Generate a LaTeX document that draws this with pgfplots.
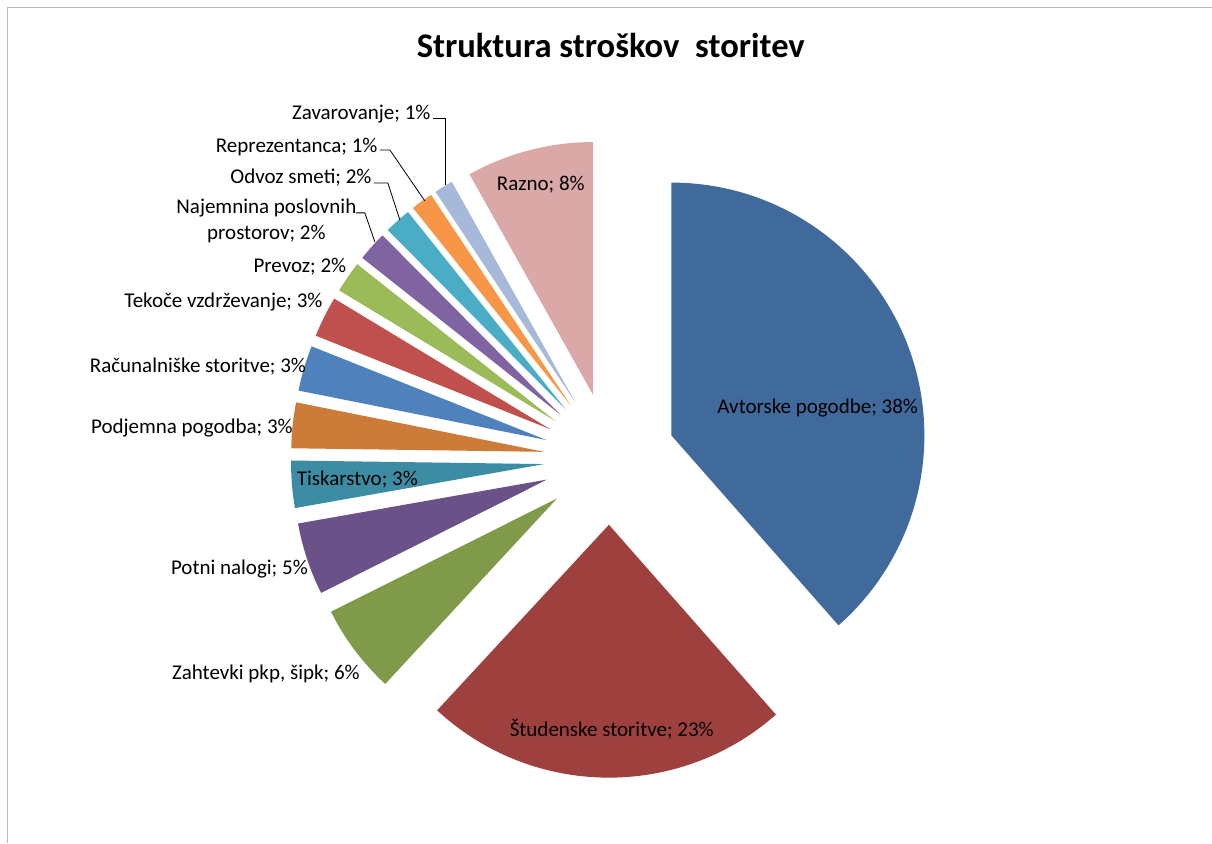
\documentclass[border=0pt]{standalone}
\usepackage{pgfplots}
\pgfplotsset{compat=1.18}
\usepackage{pgfplotstable}
\usepackage{fontspec}
\setmainfont{Carlito}

% slice colours, in drawing order (clockwise from 12 o'clock)
\definecolor{c0}{HTML}{416A9C}
\definecolor{c1}{HTML}{9E413E}
\definecolor{c2}{HTML}{7F9A48}
\definecolor{c3}{HTML}{6A5187}
\definecolor{c4}{HTML}{3C8DA3}
\definecolor{c5}{HTML}{CC7B38}
\definecolor{c6}{HTML}{4F81BD}
\definecolor{c7}{HTML}{C0504D}
\definecolor{c8}{HTML}{9BBB59}
\definecolor{c9}{HTML}{8064A2}
\definecolor{c10}{HTML}{4BACC6}
\definecolor{c11}{HTML}{F79646}
\definecolor{c12}{HTML}{A7B9D9}
\definecolor{c13}{HTML}{D9A8A7}

\pgfplotstableread[col sep=comma]{
key,value
Avtorske pogodbe,38.4
Studenske storitve,23.3
Zahtevki pkp sipk,5.7
Potni nalogi,4.6
Tiskarstvo,3.0
Podjemna pogodba,2.9
Racunalniske storitve,2.9
Tekoce vzdrzevanje,2.6
Prevoz,2.0
Najemnina,1.9
Odvoz smeti,1.7
Reprezentanca,1.4
Zavarovanje,1.2
Razno,8.1
}\costs

\newcommand{\lab}{\fontsize{10.5}{12.6}\selectfont}

\begin{document}
\begin{tikzpicture}
	\begin{axis}[
			x=0.5pt, y=0.5pt,
			xmin=0, xmax=1212,
			ymin=0, ymax=843,
			hide axis, clip=false,
			scale only axis
		]
		\path (axis cs:0,0) rectangle (axis cs:1212,843);
		% chart frame (cut at right and bottom)
		\draw[gray!55, line width=0.5pt] (axis cs:7.5,0) -- (axis cs:7.5,835.5) -- (axis cs:1212,835.5);

		% total of the values
		\def\total{0}
		\pgfplotsforeachungrouped \i in {0,...,13}{%
			\pgfplotstablegetelem{\i}{value}\of\costs
			\pgfmathsetmacro\total{\total+\pgfplotsretval}
		}
		% exploded slices: centre (610,384), radius 253, offset 66 (px)
		\def\cum{0}
		\pgfplotsforeachungrouped \i in {0,...,13}{%
			\pgfplotstablegetelem{\i}{value}\of\costs
			\pgfmathsetmacro\aone{90-360*(\cum/\total)}
			\pgfmathsetmacro\cum{\cum+\pgfplotsretval}
			\pgfmathsetmacro\atwo{90-360*(\cum/\total)}
			\pgfmathsetmacro\amid{(\aone+\atwo)/2}
			\pgfmathsetmacro\vx{610+66*cos(\amid)}
			\pgfmathsetmacro\vy{384+66*sin(\amid)}
			\edef\slice{\noexpand\fill[c\i] (axis cs:\vx,\vy) -- ++(\aone:126.5pt)
				arc[start angle=\aone, end angle=\atwo, radius=126.5pt] -- cycle;}
			\slice
		}

		% title
		\node[font=\fontsize{17.3}{20}\selectfont\bfseries, inner sep=0pt] at (axis cs:611,797) {Struktura stroškov~ storitev};

		% leader lines
		\draw[black, line width=0.4pt] (axis cs:433,725) -- (axis cs:446,725) -- (axis cs:446,658);
		\draw[black, line width=0.4pt] (axis cs:380,693) -- (axis cs:390,693) -- (axis cs:425,642);
		\draw[black, line width=0.4pt] (axis cs:374,660) -- (axis cs:388,660) -- (axis cs:400,623);
		\draw[black, line width=0.4pt] (axis cs:356,630) -- (axis cs:365,630) -- (axis cs:375,601);

		% data labels
		\begin{scope}[every node/.style={inner sep=0pt, font=\lab}]
			\node[anchor=east] at (axis cs:431,729) {Zavarovanje; 1\%};
			\node[anchor=east] at (axis cs:378,696) {Reprezentanca; 1\%};
			\node[anchor=east] at (axis cs:372,665) {Odvoz smeti; 2\%};
			\node[align=center] at (axis cs:266.5,622) {Najemnina poslovnih\\prostorov; 2\%};
			\node at (axis cs:300,576) {Prevoz; 2\%};
			\node at (axis cs:223.5,541) {Tekoče vzdrževanje; 3\%};
			\node at (axis cs:198,476) {Računalniške storitve; 3\%};
			\node at (axis cs:192,415) {Podjemna pogodba; 3\%};
			\node at (axis cs:357.5,363) {Tiskarstvo; 3\%};
			\node at (axis cs:239.5,274) {Potni nalogi; 5\%};
			\node at (axis cs:266,169) {Zahtevki pkp, šipk; 6\%};
			\node at (axis cs:541,658) {Razno; 8\%};
			\node at (axis cs:818,435) {Avtorske pogodbe; 38\%};
			\node at (axis cs:612,113) {Študenske storitve; 23\%};
		\end{scope}
	\end{axis}
\end{tikzpicture}
\end{document}
